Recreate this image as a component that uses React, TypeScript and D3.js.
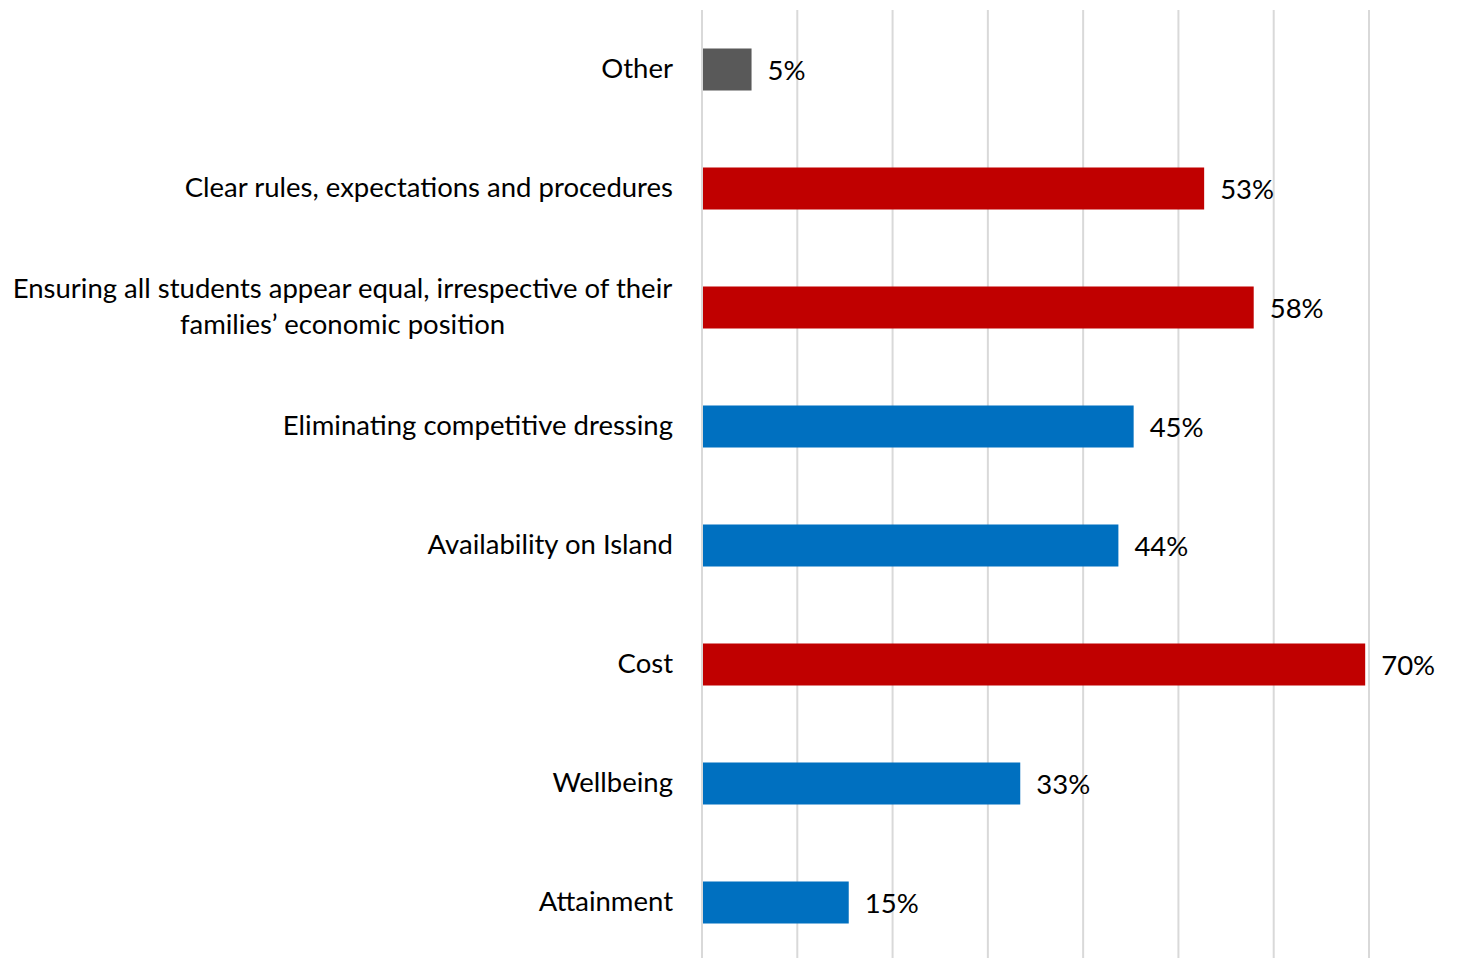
import React from "react";
import * as d3 from "d3";

const categories = [
  "Other",
  "Clear rules, expectations and procedures",
  "Ensuring all students appear equal, irrespective of their|families’ economic position",
  "Eliminating competitive dressing",
  "Availability on Island",
  "Cost",
  "Wellbeing",
  "Attainment",
];
const values = [5.2, 52.7, 57.9, 45.3, 43.7, 69.6, 33.4, 15.4];
const valueLabels = ["5%", "53%", "58%", "45%", "44%", "70%", "33%", "15%"];
const groups = ["other", "red", "red", "blue", "blue", "red", "blue", "blue"];
const ticks = [0, 10, 20, 30, 40, 50, 60, 70];

const colors: Record<string, string> = { other: "#595959", red: "#C00000", blue: "#0070C0" };

const W = 1458;
const H = 958;
const FONT = "Lato, 'Open Sans', sans-serif";
const FS = 27.5;

export default function App() {
  const x = d3.scaleLinear().domain([0, 70]).range([702, 1369]);
  const y = d3
    .scaleBand<string>()
    .domain(categories)
    .range([10, 962])
    .paddingInner(0.647)
    .paddingOuter(0.3235);

  return (
    <div style={{ position: "absolute", left: 0, top: 0 }}>
      <svg width={W} height={H} style={{ display: "block", background: "#fff" }}>
        {ticks.map((t) => (
          <line key={t} x1={x(t)} x2={x(t)} y1={10} y2={H} stroke="#D9D9D9" strokeWidth={2} />
        ))}
        {categories.map((c, i) => {
          const y0 = y(c)!;
          const bw = y.bandwidth();
          const cy = y0 + bw / 2;
          const lines = c.split("|");
          return (
            <g key={c}>
              <rect x={x(0) + 1} y={y0} width={x(values[i]) - x(0) - 1} height={bw} fill={colors[groups[i]]} />
              <text
                x={x(values[i]) + 16}
                y={cy}
                dominantBaseline="central"
                fontFamily={FONT}
                fontSize={FS}
                fill="#000"
              >
                {valueLabels[i]}
              </text>
              {lines.length === 1 ? (
                <text x={673} y={cy - 2} dominantBaseline="central" textAnchor="end" fontFamily={FONT} fontSize={FS} fill="#000">
                  {lines[0]}
                </text>
              ) : (
                lines.map((l, k) => (
                  <text
                    key={k}
                    x={342.5}
                    y={cy - 2 + (k - (lines.length - 1) / 2) * 36}
                    dominantBaseline="central"
                    textAnchor="middle"
                    fontFamily={FONT}
                    fontSize={FS}
                    fill="#000"
                  >
                    {l}
                  </text>
                ))
              )}
            </g>
          );
        })}
      </svg>
    </div>
  );
}
